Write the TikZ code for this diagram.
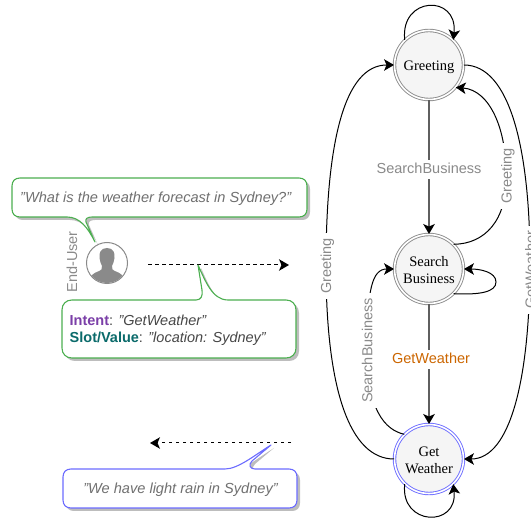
\documentclass[tikz,border=0pt]{standalone}
\usepackage{fontspec}
\setmainfont{Liberation Serif}
\setsansfont{Liberation Sans}
\usetikzlibrary{arrows.meta}
\definecolor{bubgreen}{HTML}{4CAF50}
\definecolor{bubblue}{HTML}{6C6CFF}
\definecolor{txtgray}{HTML}{8A8A8A}
\definecolor{itgray}{HTML}{707070}
\definecolor{stategray}{HTML}{8C8C8C}
\definecolor{statefill}{HTML}{F5F5F5}
\definecolor{lineg}{HTML}{5F5F5F}
\definecolor{orangetxt}{HTML}{CC6600}
\definecolor{purpletxt}{HTML}{7B3FA8}
\definecolor{tealtxt}{HTML}{0B6B6B}
\definecolor{shadowg}{HTML}{BDBDBD}
\newcommand{\firstline}{\rule{0pt}{12.7pt}}
\tikzset{
  x=1pt,y=-1pt,
  statenode/.style={circle,draw=#1,double=white,double distance=1.6pt,fill=statefill,line width=0.9pt,minimum size=69pt,inner sep=0pt,align=center,font=\fontsize{14.5}{16.7}\selectfont},
  headtip/.style={-{Stealth[length=10pt,width=11.5pt,inset=2.5pt,color=black]}},
  flow/.style={line width=1pt,black,headtip},
  down/.style={line width=1.5pt,lineg,headtip},
  lab/.style={font=\sffamily\fontsize{14.5}{17}\selectfont,text=txtgray,fill=white,inner xsep=5pt,inner ysep=2.5pt,text height=11pt,text depth=3pt},
  msg/.style={line width=1pt,black,dash pattern=on 3.5pt off 3.5pt,headtip},
  bub/.style={draw=#1,line width=1.1pt,fill=white,line join=round},
  quote/.style={font=\sffamily\itshape\fontsize{14.6}{17}\selectfont,text=itgray,inner sep=0pt},
  slotline/.style={anchor=base west,inner sep=0pt,font=\sffamily\fontsize{14.5}{17}\selectfont,text=black!72},
}
\begin{document}
\begin{tikzpicture}
\useasboundingbox (0,0) rectangle (531,521);
% states
\node[statenode=stategray,text height=14.4pt,text depth=3pt] (greet) at (429,65) {Greeting};
\node[statenode=stategray] (search) at (429,269) {\firstline Search\\Business};
\node[statenode=bubblue] (gw) at (429,459) {\firstline Get\\Weather};
% straight
\draw[down] (greet) -- (search);
\node[lab] (lsb) at (429,170) {SearchBusiness};
\draw[down] (search) -- (gw);
\node[lab,text=orangetxt] (lgw) at (431,360) {GetWeather};
% self loops
\draw[flow] (greet.134) .. controls (400,-4) and (458,-6) .. (greet.46);
\draw[flow] (search.-45) .. controls (480,295) and (496,292) .. (496,282) .. controls (496,272) and (480,269) .. (search.east);
\draw[flow] (gw.-134) .. controls (400,526) and (458,528) .. (gw.-46);
% long curves
\draw[flow] (gw.west) .. controls (350,459) and (326,390) .. (326,266) .. controls (326,140) and (345,65) .. (greet.west);
\node[lab,rotate=90] (lg1) at (327,266) {Greeting};
\draw[flow] (greet.east) .. controls (510,65) and (530,150) .. (530,262) .. controls (530,380) and (510,459) .. (gw.east);
\node[lab,rotate=90] (lg2) at (531.5,270) {GetWeather};
\draw[flow] (search.45) .. controls (485,244) and (507,220) .. (506,177) .. controls (507,130) and (490,90) .. (greet.-40);
\node[lab,rotate=90] (lg3) at (507.7,176) {Greeting};
\draw[flow] (gw.135) .. controls (385,430) and (367,410) .. (367,350) .. controls (367,290) and (372,269) .. (search.west);
\node[lab,rotate=90] (lsb2) at (368.3,350.5) {SearchBusiness};
% bubble 1
\def\bubA{(20,178) -- (299,178) .. controls (304,178) and (307,181) .. (307,186) -- (307,209) .. controls (307,214) and (304,217) .. (299,217) -- (92,217) .. controls (87,217) and (85,219) .. (86,222) -- (95,242) .. controls (88,228) and (80,217) .. (67,217) -- (20,217) .. controls (15,217) and (12,214) .. (12,209) -- (12,186) .. controls (12,181) and (15,178) .. (20,178) -- cycle}
\begin{scope}[shift={(3,3)}]\fill[shadowg] \bubA;\end{scope}
\draw[bub=bubgreen] \bubA;
\node[quote,anchor=base west] (q1) at (20,202.7) {"What is the weather forecast in Sydney?"};
% user
\node[circle,draw=txtgray,line width=1pt,fill=white,minimum size=41pt,inner sep=0pt] (user) at (107,263) {};
\begin{scope}
\clip (user.center) circle (20);
\fill[txtgray] (107,248) .. controls (100.5,248) and (99,253) .. (99.5,258) .. controls (99.8,261) and (101,264) .. (102,266) .. controls (102.5,269) and (101.5,270) .. (98,271.5) .. controls (94,273) and (90,275) .. (87,284) -- (127,284) .. controls (124,275) and (120,273) .. (116,271.5) .. controls (112.5,270) and (111.5,269) .. (112,266) .. controls (113,264) and (114.2,261) .. (114.5,258) .. controls (115,253) and (113.5,248) .. (107,248) -- cycle;
\end{scope}
\node[lab,fill=none,rotate=90] (eu) at (73,262) {End-User};
% messages
\coordinate (m1a) at (148,265);
\coordinate (m1b) at (289,265);
\draw[msg] (m1a) -- (m1b);
\coordinate (m2a) at (291,443);
\coordinate (m2b) at (150,443);
\draw[msg] (m2a) -- (m2b);
% bubble 2
\def\bubB{(72,300) -- (196,300) .. controls (201,300) and (203,296) .. (202,290) -- (198,265) .. controls (205,280) and (212,300) .. (228,300) -- (286,300) .. controls (292,300) and (296,304) .. (296,310) -- (296,348) .. controls (296,354) and (292,358) .. (286,358) -- (72,358) .. controls (66,358) and (62,354) .. (62,348) -- (62,310) .. controls (62,304) and (66,300) .. (72,300) -- cycle}
\begin{scope}[shift={(3,3)}]\fill[shadowg] \bubB;\end{scope}
\draw[bub=bubgreen] \bubB;
\node[slotline] (q2) at (69.5,326) {\textbf{\textcolor{purpletxt}{Intent}}: \textit{"GetWeather"}};
\node[slotline] (q3) at (69.5,342.7) {\textbf{\textcolor{tealtxt}{Slot/Value}}: \textit{"location: Sydney"}};
% bubble 3
\def\bubC{(71,469) -- (225,469) .. controls (238,469) and (255,455) .. (271,445) -- (252,461) .. controls (248,465) and (250,469) .. (255,469) -- (289,469) .. controls (294,469) and (297,472) .. (297,477) -- (297,500) .. controls (297,505) and (294,508) .. (289,508) -- (71,508) .. controls (66,508) and (63,505) .. (63,500) -- (63,477) .. controls (63,472) and (66,469) .. (71,469) -- cycle}
\begin{scope}[shift={(3,3)}]\fill[shadowg] \bubC;\end{scope}
\draw[bub=bubblue] \bubC;
\node[quote,anchor=base] (q4) at (180.5,493.3) {"We have light rain in Sydney"};
\end{tikzpicture}
\end{document}
